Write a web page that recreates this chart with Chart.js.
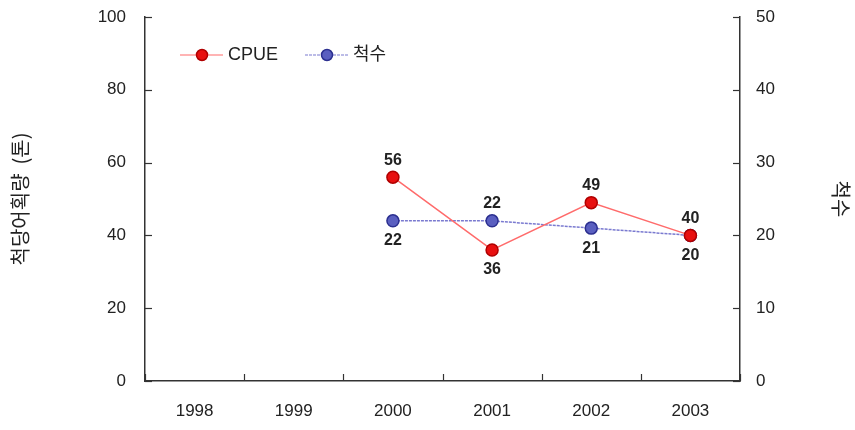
<!DOCTYPE html>
<html><head><meta charset="utf-8">
<script src="https://cdn.jsdelivr.net/npm/chart.js@4/dist/chart.umd.min.js"></script>
<style>html,body{margin:0;padding:0;background:#fff}#wrap{width:855px;height:430px}</style>
</head><body><div id="wrap"><canvas id="c" width="855" height="430"></canvas></div>
<script>
const years = ['1998','1999','2000','2001','2002','2003'];
const cpue = [null, null, 56, 36, 49, 40];
const vessels = [null, null, 22, 22, 21, 20];
const cpueLabelPos = ['', '', 'above', 'below', 'above', 'above'];
const vesselLabelPos = ['', '', 'below', 'above', 'below', 'below'];
const leftTicks = [0, 20, 40, 60, 80, 100];
const rightTicks = [0, 10, 20, 30, 40, 50];

const FONT = "'Liberation Sans', Arial, 'Noto Sans CJK KR', sans-serif";
const KFONT = "'Noto Sans CJK KR', 'Liberation Sans', sans-serif";

const inwardTicks = {
  id: 'inwardTicks',
  afterDraw(chart) {
    const ctx = chart.ctx, a = chart.chartArea;
    ctx.save();
    ctx.strokeStyle = '#333'; ctx.lineWidth = 1.2;
    const L = 7;
    const y = chart.scales.y, y2 = chart.scales.y2;
    leftTicks.forEach(v => { const p = Math.round(y.getPixelForValue(v)) + 0.5; ctx.beginPath(); ctx.moveTo(a.left, p); ctx.lineTo(a.left + L, p); ctx.stroke(); });
    rightTicks.forEach(v => { const p = Math.round(y2.getPixelForValue(v)) + 0.5; ctx.beginPath(); ctx.moveTo(a.right, p); ctx.lineTo(a.right - L, p); ctx.stroke(); });
    const n = years.length;
    for (let i = 0; i <= n; i++) {
      const p = Math.round(a.left + (a.right - a.left) * i / n) + 0.5;
      ctx.beginPath(); ctx.moveTo(p, a.bottom); ctx.lineTo(p, a.bottom - L); ctx.stroke();
    }
    // data labels
    ctx.font = "bold 16px " + FONT;
    ctx.fillStyle = '#222'; ctx.textAlign = 'center'; ctx.textBaseline = 'middle';
    const draw = (dsIndex, values, pos) => {
      const meta = chart.getDatasetMeta(dsIndex);
      values.forEach((v, i) => {
        if (v === null) return;
        const el = meta.data[i];
        const dy = pos[i] === 'above' ? -17 : 20;
        ctx.fillText(String(v), el.x, el.y + dy);
      });
    };
    draw(0, cpue, cpueLabelPos);
    draw(1, vessels, vesselLabelPos);
    // legend
    const items = [
      {label: 'CPUE', ds: chart.data.datasets[0], x: a.left + 35},
      {label: '척수', ds: chart.data.datasets[1], x: a.left + 160}
    ];
    const ly = 55;
    items.forEach(it => {
      ctx.strokeStyle = it.ds.borderColor; ctx.lineWidth = 1.2;
      ctx.setLineDash(it.ds.borderDash || []);
      ctx.beginPath(); ctx.moveTo(it.x, ly); ctx.lineTo(it.x + 43, ly); ctx.stroke();
      ctx.setLineDash([]);
      ctx.beginPath(); ctx.arc(it.x + 22, ly, 5.5, 0, Math.PI * 2);
      ctx.fillStyle = it.ds.pointBackgroundColor; ctx.fill();
      ctx.strokeStyle = it.ds.pointBorderColor; ctx.lineWidth = 1.5; ctx.stroke();
      ctx.fillStyle = '#222'; ctx.textAlign = 'left';
      ctx.font = "18px " + FONT;
      ctx.fillText(it.label, it.x + 48, ly);
    });
    ctx.restore();
  }
};

new Chart(document.getElementById('c'), {
  type: 'line',
  data: {
    labels: years,
    datasets: [
      {
        label: 'CPUE', data: cpue, yAxisID: 'y',
        borderColor: '#ff6b6b', borderWidth: 1.5,
        pointRadius: 6, pointBackgroundColor: '#e81010', pointBorderColor: '#b00000', pointBorderWidth: 1.5
      },
      {
        label: '척수', data: vessels, yAxisID: 'y2',
        borderColor: '#7a7ad0', borderWidth: 1.5, borderDash: [3, 1],
        pointRadius: 6, pointBackgroundColor: '#5a5fc0', pointBorderColor: '#2c3090', pointBorderWidth: 1.5
      }
    ]
  },
  options: {
    responsive: false, animation: false, devicePixelRatio: 1,
    layout: { padding: { top: 17, left: 0, right: 0, bottom: 0 } },
    plugins: { legend: { display: false }, tooltip: { enabled: false } },
    scales: {
      x: {
        offset: true,
        grid: { display: true, drawOnChartArea: false, drawTicks: false, offset: true, color: 'rgba(0,0,0,0)' },
        border: { display: true, color: '#333', width: 1.5 },
        ticks: { color: '#222', font: { family: FONT, size: 17 }, padding: 20, maxRotation: 0 },
        afterFit(s) { s.height = 49; s.paddingLeft = 0; s.paddingRight = 0; }
      },
      y: {
        position: 'left', min: 0, max: 100,
        afterBuildTicks(s) { s.ticks = leftTicks.map(v => ({ value: v })); },
        grid: { drawOnChartArea: false, drawTicks: false },
        border: { display: true, color: '#333', width: 1.5 },
        ticks: { color: '#222', font: { family: FONT, size: 17 }, padding: 19 },
        title: { display: true, text: '척당어획량  (톤)', color: '#222', font: { family: KFONT, size: 20 }, padding: { top: 8, bottom: 0 } },
        afterFit(s) { s.width = 145; s.paddingTop = 0; s.paddingBottom = 0; }
      },
      y2: {
        position: 'right', min: 0, max: 50,
        afterBuildTicks(s) { s.ticks = rightTicks.map(v => ({ value: v })); },
        grid: { drawOnChartArea: false, drawTicks: false },
        border: { display: true, color: '#333', width: 1.5 },
        ticks: { color: '#222', font: { family: FONT, size: 17 }, padding: 16 },
        title: { display: true, text: '척수', color: '#222', font: { family: KFONT, size: 20 }, padding: { top: 2, bottom: 0 } },
        afterFit(s) { s.width = 115; s.paddingTop = 0; s.paddingBottom = 0; }
      }
    }
  },
  plugins: [inwardTicks]
});
</script></body></html>
